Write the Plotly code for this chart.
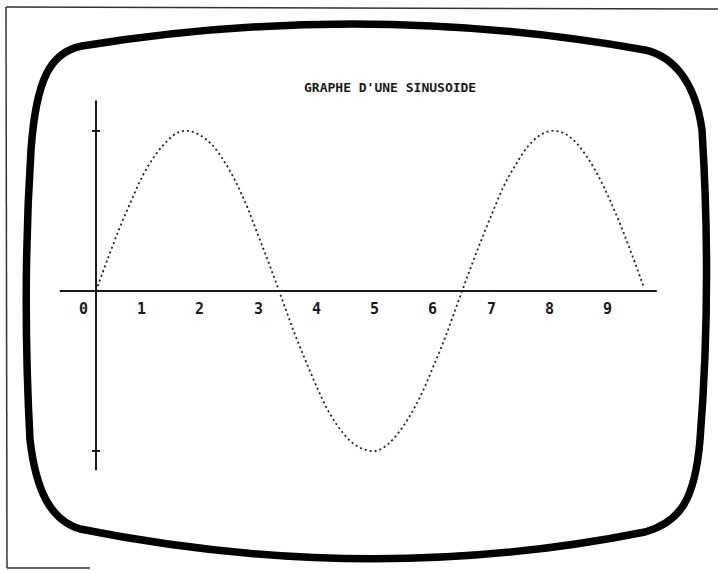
import plotly.graph_objects as go

# sinusoide lue sur l'écran (pas de 0.2)
x_vals = [0.0, 0.2, 0.4, 0.6, 0.8, 1.0, 1.2, 1.4, 1.6, 1.8,
          2.0, 2.2, 2.4, 2.6, 2.8, 3.0, 3.2, 3.4, 3.6, 3.8,
          4.0, 4.2, 4.4, 4.6, 4.8, 5.0, 5.2, 5.4, 5.6, 5.8,
          6.0, 6.2, 6.4, 6.6, 6.8, 7.0, 7.2, 7.4, 7.6, 7.8,
          8.0, 8.2, 8.4, 8.6, 8.8, 9.0, 9.2, 9.4]
y_vals = [0.00, 0.20, 0.39, 0.56, 0.72, 0.84, 0.93, 0.99, 1.00, 0.97,
          0.91, 0.81, 0.68, 0.52, 0.33, 0.14, -0.06, -0.26, -0.44, -0.61,
          -0.76, -0.87, -0.95, -0.99, -1.00, -0.96, -0.88, -0.77, -0.63, -0.46,
          -0.28, -0.08, 0.12, 0.31, 0.49, 0.66, 0.79, 0.90, 0.97, 1.00,
          0.99, 0.94, 0.85, 0.73, 0.58, 0.41, 0.22, 0.02]
x_ticks = [0, 1, 2, 3, 4, 5, 6, 7, 8, 9]
y_ticks = [-1, 1]
title = "GRAPHE D'UNE SINUSOIDE"

W, H = 718, 570
X0, Y0 = 96, 291      # origine en pixels
SX, SY = 58.3, 160    # pixels par unité
INK = "#1a1a1a"
FONT = "DejaVu Sans Mono"


def px(x, y):
    return x / W, 1 - y / H


def path(cmds):
    out = []
    for c in cmds:
        op, pts = c[0], c[1:]
        coords = " ".join("%.5f,%.5f" % px(*p) for p in pts)
        out.append(op + " " + coords)
    return " ".join(out) + " Z"


fig = go.Figure()

fig.add_trace(go.Scatter(
    x=x_vals, y=y_vals, mode="lines",
    line=dict(color="#222", width=1.8, dash="2px,3px", shape="spline"),
    showlegend=False, hoverinfo="skip"))

shapes = []
# cadre de l'écran (bord du tube)
bezel = path([
    ("M", (82, 46)),
    ("Q", (365, 0), (645, 50)),
    ("C", (672, 56), (695, 80), (702, 130)),
    ("Q", (712, 290), (700, 440)),
    ("C", (695, 500), (680, 522), (645, 532)),
    ("Q", (370, 587), (80, 529)),
    ("C", (50, 520), (36, 490), (30, 440)),
    ("Q", (22, 290), (31, 150)),
    ("C", (36, 80), (50, 52), (82, 46)),
])
shapes.append(dict(type="path", xref="paper", yref="paper", path=bezel,
                   line=dict(color="#000", width=7.5)))
# bord de la photo
for (a, b) in [((6, 7), (718, 9)), ((6, 7), (7, 568)), ((7, 568), (90, 568))]:
    (xa, ya), (xb, yb) = px(*a), px(*b)
    shapes.append(dict(type="line", xref="paper", yref="paper",
                       x0=xa, y0=ya, x1=xb, y1=yb,
                       line=dict(color="#333", width=1.5)))
# axes
shapes.append(dict(type="line", x0=-0.62, x1=9.62, y0=0, y1=0,
                   line=dict(color=INK, width=2)))
shapes.append(dict(type="line", x0=0, x1=0, y0=-1.12, y1=1.19,
                   line=dict(color=INK, width=2)))
for t in y_ticks:
    shapes.append(dict(type="line", x0=-0.07, x1=0.07, y0=t, y1=t,
                       line=dict(color=INK, width=2)))

annotations = []
for t in x_ticks:
    annotations.append(dict(x=t - 0.22, y=-0.11, text="<b>%d</b>" % t, showarrow=False,
                            font=dict(family=FONT, size=15, color=INK),
                            xanchor="center", yanchor="middle"))
tx, ty = px(390, 87)
annotations.append(dict(x=tx, y=ty, xref="paper", yref="paper", text="<b>" + title + "</b>",
                        showarrow=False, xanchor="center", yanchor="middle",
                        font=dict(family=FONT, size=13, color=INK)))

fig.update_layout(
    width=W, height=H,
    margin=dict(l=0, r=0, t=0, b=0),
    paper_bgcolor="white", plot_bgcolor="white",
    xaxis=dict(visible=False, range=[-X0 / SX, (W - X0) / SX], fixedrange=True),
    yaxis=dict(visible=False, range=[-(H - Y0) / SY, Y0 / SY], fixedrange=True),
    shapes=shapes, annotations=annotations,
)

fig.write_html("out.html", config={"displayModeBar": False},
               post_script="document.body.style.margin='0';")
